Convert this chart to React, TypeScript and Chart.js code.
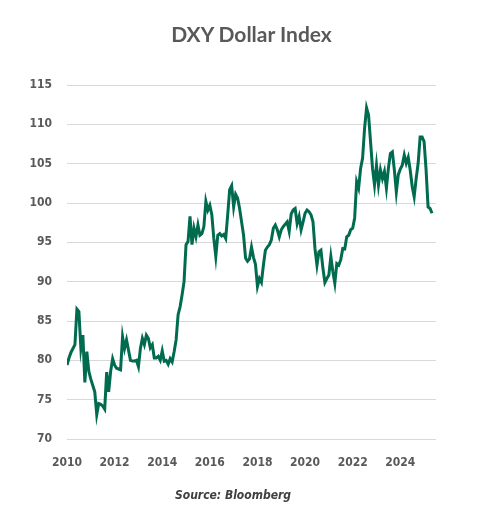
import React, { useEffect, useRef } from "react";
import { Chart, registerables } from "chart.js";

Chart.register(...registerables);

const startYear = 2010;
const title = "DXY Dollar Index";
const source = "Source: Bloomberg";
const yTicks = [70, 75, 80, 85, 90, 95, 100, 105, 110, 115];
const xTickYears = [2010, 2012, 2014, 2016, 2018, 2020, 2022, 2024];

// monthly DXY values, Jan 2010 onward
const v2010 = [79.4, 80.3, 81.0, 81.5, 82.0, 86.5, 86.2, 81.5, 83.2, 77.2, 81.1, 78.6];
const v2011 = [77.6, 76.8, 76.0, 73.1, 74.5, 74.4, 74.2, 73.8, 78.5, 76.0, 78.6, 80.2];
const v2012 = [79.4, 79.0, 78.9, 78.8, 83.0, 81.5, 82.6, 81.3, 80.0, 79.9, 79.9, 80.0];
const v2013 = [79.2, 81.5, 82.8, 82.0, 83.2, 82.8, 81.6, 82.0, 80.3, 80.3, 80.5, 80.0];
const v2014 = [81.2, 79.9, 80.0, 79.5, 80.2, 79.8, 81.1, 82.6, 85.8, 86.8, 88.3, 90.0];
const v2015 = [94.7, 95.1, 98.3, 94.7, 96.8, 95.7, 97.2, 95.9, 96.1, 97.0, 100.2, 99.1];
const v2016 = [99.7, 98.5, 95.5, 93.2, 95.9, 96.1, 95.8, 96.0, 95.5, 98.5, 101.7, 102.2];
const v2017 = [99.5, 101.1, 100.6, 99.3, 97.6, 95.9, 93.0, 92.6, 92.9, 94.4, 93.1, 92.2];
const v2018 = [89.4, 90.4, 89.9, 92.1, 94.0, 94.4, 94.7, 95.3, 96.8, 97.2, 96.6, 95.7];
const v2019 = [96.6, 97.0, 97.3, 97.6, 96.4, 98.6, 99.1, 99.3, 97.4, 98.3, 96.6, 97.6];
const v2020 = [98.7, 99.1, 98.9, 98.5, 97.6, 94.2, 92.1, 93.8, 94.0, 91.7, 89.9, 90.4];
const v2021 = [90.85, 93.2, 91.3, 89.8, 92.3, 92.1, 92.8, 94.2, 94.15, 95.7, 95.9, 96.6];
const v2022 = [96.8, 98.1, 102.7, 101.9, 104.4, 105.7, 109.5, 112.1, 111.2, 107.8, 104.4, 102.3];
const v2023 = [104.8, 102.3, 104.2, 103.1, 104.0, 101.9, 104.4, 106.3, 106.5, 104.2, 101.4, 103.6];
const v2024 = [104.3, 104.8, 106.1, 105.05, 105.8, 104.2, 102.1, 100.8, 103.1, 105.05, 108.4, 108.4];
const v2025 = [107.8, 104.2, 99.5, 99.3, 98.7];

const values = [
  ...v2010, ...v2011, ...v2012, ...v2013, ...v2014, ...v2015, ...v2016, ...v2017,
  ...v2018, ...v2019, ...v2020, ...v2021, ...v2022, ...v2023, ...v2024, ...v2025,
];

const tickFont = { family: "'DejaVu Sans Condensed', 'DejaVu Sans', sans-serif", size: 12, weight: "bold" as const };

export default function App() {
  const ref = useRef<HTMLCanvasElement | null>(null);

  useEffect(() => {
    if (!ref.current) return;
    const points = values.map((y, i) => ({ x: startYear + i / 12, y }));
    const chart = new Chart(ref.current, {
      type: "line",
      data: {
        datasets: [
          {
            data: points,
            borderColor: "#006b4f",
            borderWidth: 3,
            pointRadius: 0,
            tension: 0,
            fill: false,
          },
        ],
      },
      options: {
        animation: false,
        responsive: false,
        maintainAspectRatio: false,
        layout: { padding: { top: 77, right: 33, left: 0, bottom: 0 } },
        plugins: { legend: { display: false }, tooltip: { enabled: false }, title: { display: false } },
        scales: {
          x: {
            type: "linear",
            min: 2010,
            max: 2025.5,
            grid: { display: false, drawTicks: false },
            border: { display: false },
            afterBuildTicks: (scale: any) => {
              scale.ticks = xTickYears.map((v) => ({ value: v }));
            },
            afterFit: (scale: any) => {
              scale.height = 69;
            },
            ticks: {
              autoSkip: false,
              maxRotation: 0,
              padding: 17,
              color: "#595959",
              font: tickFont,
              callback: (v: any) => String(v),
            },
          },
          y: {
            min: 70,
            max: 115,
            afterBuildTicks: (scale: any) => {
              scale.ticks = yTicks.map((v) => ({ value: v }));
            },
            afterFit: (scale: any) => {
              scale.width = 59;
            },
            grid: { color: "#d9d9d9", lineWidth: 1, drawTicks: false },
            border: { display: false },
            ticks: {
              padding: 15,
              color: "#595959",
              font: tickFont,
              callback: (v: any) => String(v),
            },
          },
        },
      },
    });
    return () => chart.destroy();
  }, []);

  return (
    <div style={{ position: "relative", width: 461, height: 500 }}>
      <canvas ref={ref} width={461} height={500} style={{ display: "block" }} />
      <div
        style={{
          position: "absolute",
          left: 59,
          width: 369,
          top: 14,
          lineHeight: "24px",
          textAlign: "center",
          fontFamily: "Lato, 'Open Sans', sans-serif",
          fontWeight: 700,
          fontSize: 21,
          color: "#595959",
        }}
      >
        {title}
      </div>
      <div
        style={{
          position: "absolute",
          left: 0,
          width: 450,
          top: 479,
          lineHeight: "16px",
          textAlign: "center",
          fontFamily: "'DejaVu Sans Condensed', 'DejaVu Sans', sans-serif",
          fontWeight: 700,
          fontStyle: "italic",
          fontSize: 12,
          color: "#404040",
        }}
      >
        {source}
      </div>
    </div>
  );
}
